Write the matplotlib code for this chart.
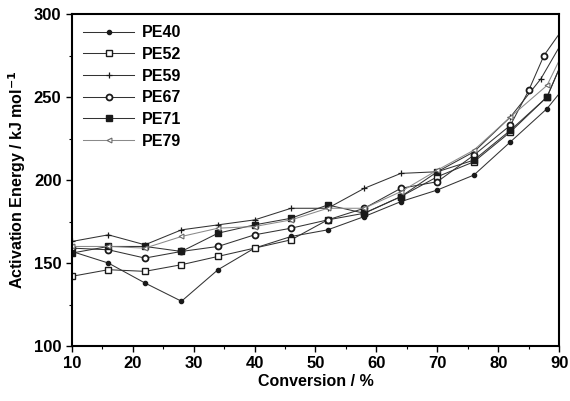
import numpy as np
import matplotlib
matplotlib.use("Agg")
import matplotlib.pyplot as plt
from matplotlib.legend_handler import HandlerLine2D

plt.rcParams['font.family'] = ['Liberation Sans', 'DejaVu Sans']
plt.rcParams['font.weight'] = 'bold'

# Data
x_pe40 = [10, 16, 22, 28, 34, 40, 46, 52, 58, 64, 70, 76, 82, 88, 90]
y_pe40 = [157, 150, 138, 127, 146, 159, 166, 170, 178, 187, 194, 203, 223, 243, 252]

x_pe52 = [10, 16, 22, 28, 34, 40, 46, 52, 58, 64, 70, 76, 82, 88, 90]
y_pe52 = [142, 146, 145, 149, 154, 159, 164, 176, 180, 190, 202, 211, 229, 250, 267]

x_pe59 = [10, 16, 22, 28, 34, 40, 46, 52, 58, 64, 70, 76, 82, 87, 90]
y_pe59 = [163, 167, 161, 170, 173, 176, 183, 183, 195, 204, 205, 217, 238, 261, 280]

x_pe67 = [10, 16, 22, 28, 34, 40, 46, 52, 58, 64, 70, 76, 82, 85, 87.5, 90]
y_pe67 = [159, 158, 153, 157, 160, 167, 171, 176, 183, 195, 199, 215, 233, 254, 275, 288]

x_pe71 = [10, 16, 22, 28, 34, 40, 46, 52, 58, 64, 70, 76, 82, 88, 90]
y_pe71 = [156, 160, 160, 157, 168, 173, 177, 185, 180, 190, 205, 212, 230, 250, 267]

x_pe79 = [10, 16, 22, 28, 34, 40, 46, 52, 58, 64, 70, 76, 82, 88, 90]
y_pe79 = [160, 160, 159, 166, 171, 172, 176, 183, 183, 193, 206, 218, 238, 257, 272]

labels = ['PE40', 'PE52', 'PE59', 'PE67', 'PE71', 'PE79']
xs = [x_pe40, x_pe52, x_pe59, x_pe67, x_pe71, x_pe79]
ys = [y_pe40, y_pe52, y_pe59, y_pe67, y_pe71, y_pe79]

styles = [
    dict(color='#333333', marker='o', ms=3.0, mfc='#1a1a1a', mec='#1a1a1a'),
    dict(color='#333333', marker='s', ms=4.5, mfc='white', mec='#1a1a1a', mew=1.0),
    dict(color='#333333', marker='+', ms=5, mec='#1a1a1a', mew=0.9),
    dict(color='#333333', marker='o', ms=4.3, mfc='white', mec='#1a1a1a', mew=1.3),
    dict(color='#333333', marker='s', ms=4.0, mfc='#1a1a1a', mec='#1a1a1a'),
    dict(color='#8a8a8a', marker='<', ms=3.5, mfc='white', mec='#6a6a6a', mew=0.8),
]

fig = plt.figure(figsize=(5.70, 4.01), dpi=100)
ax = fig.add_axes([0.126, 0.137, 0.855, 0.828])

for x, y, lab, st in zip(xs, ys, labels, styles):
    n = len(x)
    ax.plot(x, y, lw=0.75, label=lab, markevery=list(range(n - 1)), **st)

ax.set_xlim(10, 90)
ax.set_ylim(100, 300)
ax.set_xticks(np.arange(10, 91, 10))
ax.set_xticks(np.arange(15, 90, 10), minor=True)
ax.set_yticks(np.arange(100, 301, 50))
ax.set_yticks(np.arange(125, 300, 50), minor=True)
ax.tick_params(direction='out', which='major', length=4, width=1, labelsize=12)
ax.tick_params(direction='out', which='minor', length=2.5, width=0.8)
for lab in ax.get_xticklabels() + ax.get_yticklabels():
    lab.set_fontweight('bold')
for sp in ax.spines.values():
    sp.set_linewidth(1.5)

ax.set_xlabel('Conversion / %', fontsize=11.5, fontweight='bold', labelpad=2)
ax.set_ylabel('Activation Energy / kJ mol$^{\\mathbf{-1}}$', fontsize=11.5, fontweight='bold', labelpad=4)


class LeftMarkerHandler(HandlerLine2D):
    def get_xdata(self, legend, xdescent, ydescent, width, height, fontsize):
        xdata = np.array([-xdescent, -xdescent + width])
        xdata_marker = np.array([-xdescent + 1.5])
        return xdata, xdata_marker


handles, labs = ax.get_legend_handles_labels()
leg = ax.legend(handles, labs, loc='upper left', frameon=False,
                handler_map={h: LeftMarkerHandler() for h in handles},
                handlelength=3.2, handletextpad=0.5, labelspacing=0.42,
                borderaxespad=0.3, prop=dict(weight='bold', size=11.5))

fig.savefig('out.png', dpi=100)
